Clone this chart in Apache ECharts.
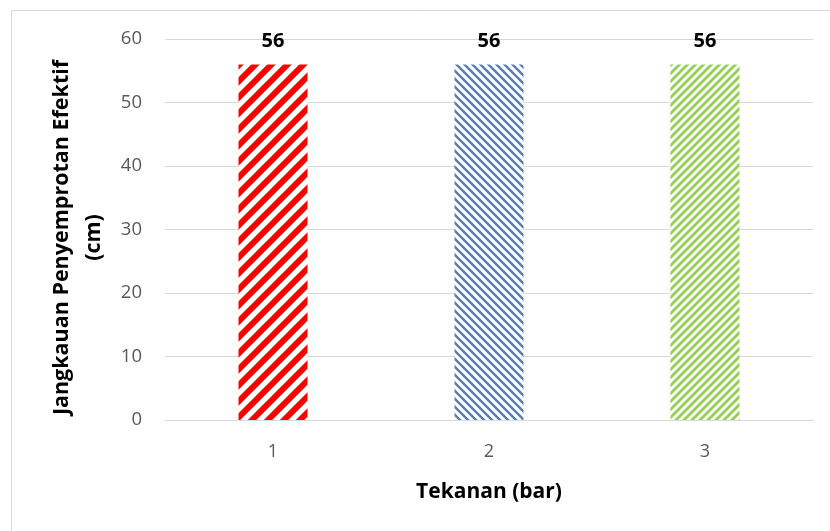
<!DOCTYPE html>
<html>
<head>
<meta charset="utf-8">
<script src="https://cdn.jsdelivr.net/npm/echarts@6/dist/echarts.min.js"></script>
<style>
  html, body { margin: 0; padding: 0; background: #ffffff; }
  #chart { width: 830px; height: 531px; }
</style>
</head>
<body>
<div id="chart"></div>
<script>
// Data
const categories = ['1', '2', '3'];
const values = [56, 56, 56];
const yTicks = { min: 0, max: 60, interval: 10 };

// Diagonal stripe tile used as a bar fill
function stripeTile(size, color, width, upward) {
  const c = document.createElement('canvas');
  c.width = size; c.height = size;
  const ctx = c.getContext('2d');
  ctx.fillStyle = '#ffffff';
  ctx.fillRect(0, 0, size, size);
  ctx.strokeStyle = color;
  ctx.lineWidth = width;
  ctx.lineCap = 'square';
  for (let k = -1; k <= 1; k++) {
    ctx.beginPath();
    if (upward) {
      ctx.moveTo(k * size, size);
      ctx.lineTo(k * size + size, 0);
    } else {
      ctx.moveTo(k * size, 0);
      ctx.lineTo(k * size + size, size);
    }
    ctx.stroke();
  }
  return { image: c, repeat: 'repeat' };
}

const fills = [
  stripeTile(16, '#ff0000', 6, true),
  stripeTile(8, '#5a7db0', 2.4, false),
  stripeTile(8, '#92d050', 2.8, true)
];

const chart = echarts.init(document.getElementById('chart'), null, { renderer: 'canvas' });
const font = '"Open Sans", "Liberation Sans", sans-serif';

chart.setOption({
  animation: false,
  backgroundColor: '#ffffff',
  graphic: [{
    type: 'rect',
    shape: { x: 11.5, y: 10.5, width: 840, height: 540 },
    style: { fill: 'none', stroke: '#d9d9d9', lineWidth: 1 },
    z: -1
  }],
  grid: { left: 165, right: 17, top: 39, bottom: 111 },
  xAxis: {
    type: 'category',
    data: categories,
    name: 'Tekanan (bar)',
    nameLocation: 'middle',
    nameGap: 62,
    nameTextStyle: { fontFamily: font, fontWeight: 'bold', fontSize: 21, color: '#000000' },
    axisLine: { lineStyle: { color: '#d9d9d9', width: 1 } },
    axisTick: { show: false },
    axisLabel: { fontFamily: font, fontSize: 18, color: '#595959', margin: 23 }
  },
  yAxis: {
    type: 'value',
    min: yTicks.min,
    max: yTicks.max,
    interval: yTicks.interval,
    name: 'Jangkauan Penyemprotan Efektif\n(cm)',
    nameLocation: 'middle',
    nameRotate: 90,
    nameGap: 52,
    nameTextStyle: {
      fontFamily: font, fontWeight: 'bold', fontSize: 21.5, color: '#000000',
      lineHeight: 32, align: 'center', padding: [0, 16, 0, 0]
    },
    axisLine: { show: false },
    axisTick: { show: false },
    splitLine: { lineStyle: { color: '#d9d9d9', width: 1 } },
    axisLabel: { fontFamily: font, fontSize: 18.5, color: '#595959', margin: 23 }
  },
  series: [{
    type: 'bar',
    data: values.map((v, i) => ({ value: v, itemStyle: { color: fills[i] } })),
    barWidth: 69,
    label: {
      show: true,
      position: 'top',
      distance: 13,
      fontFamily: font,
      fontWeight: 'bold',
      fontSize: 20,
      color: '#000000'
    }
  }]
});
</script>
</body>
</html>
